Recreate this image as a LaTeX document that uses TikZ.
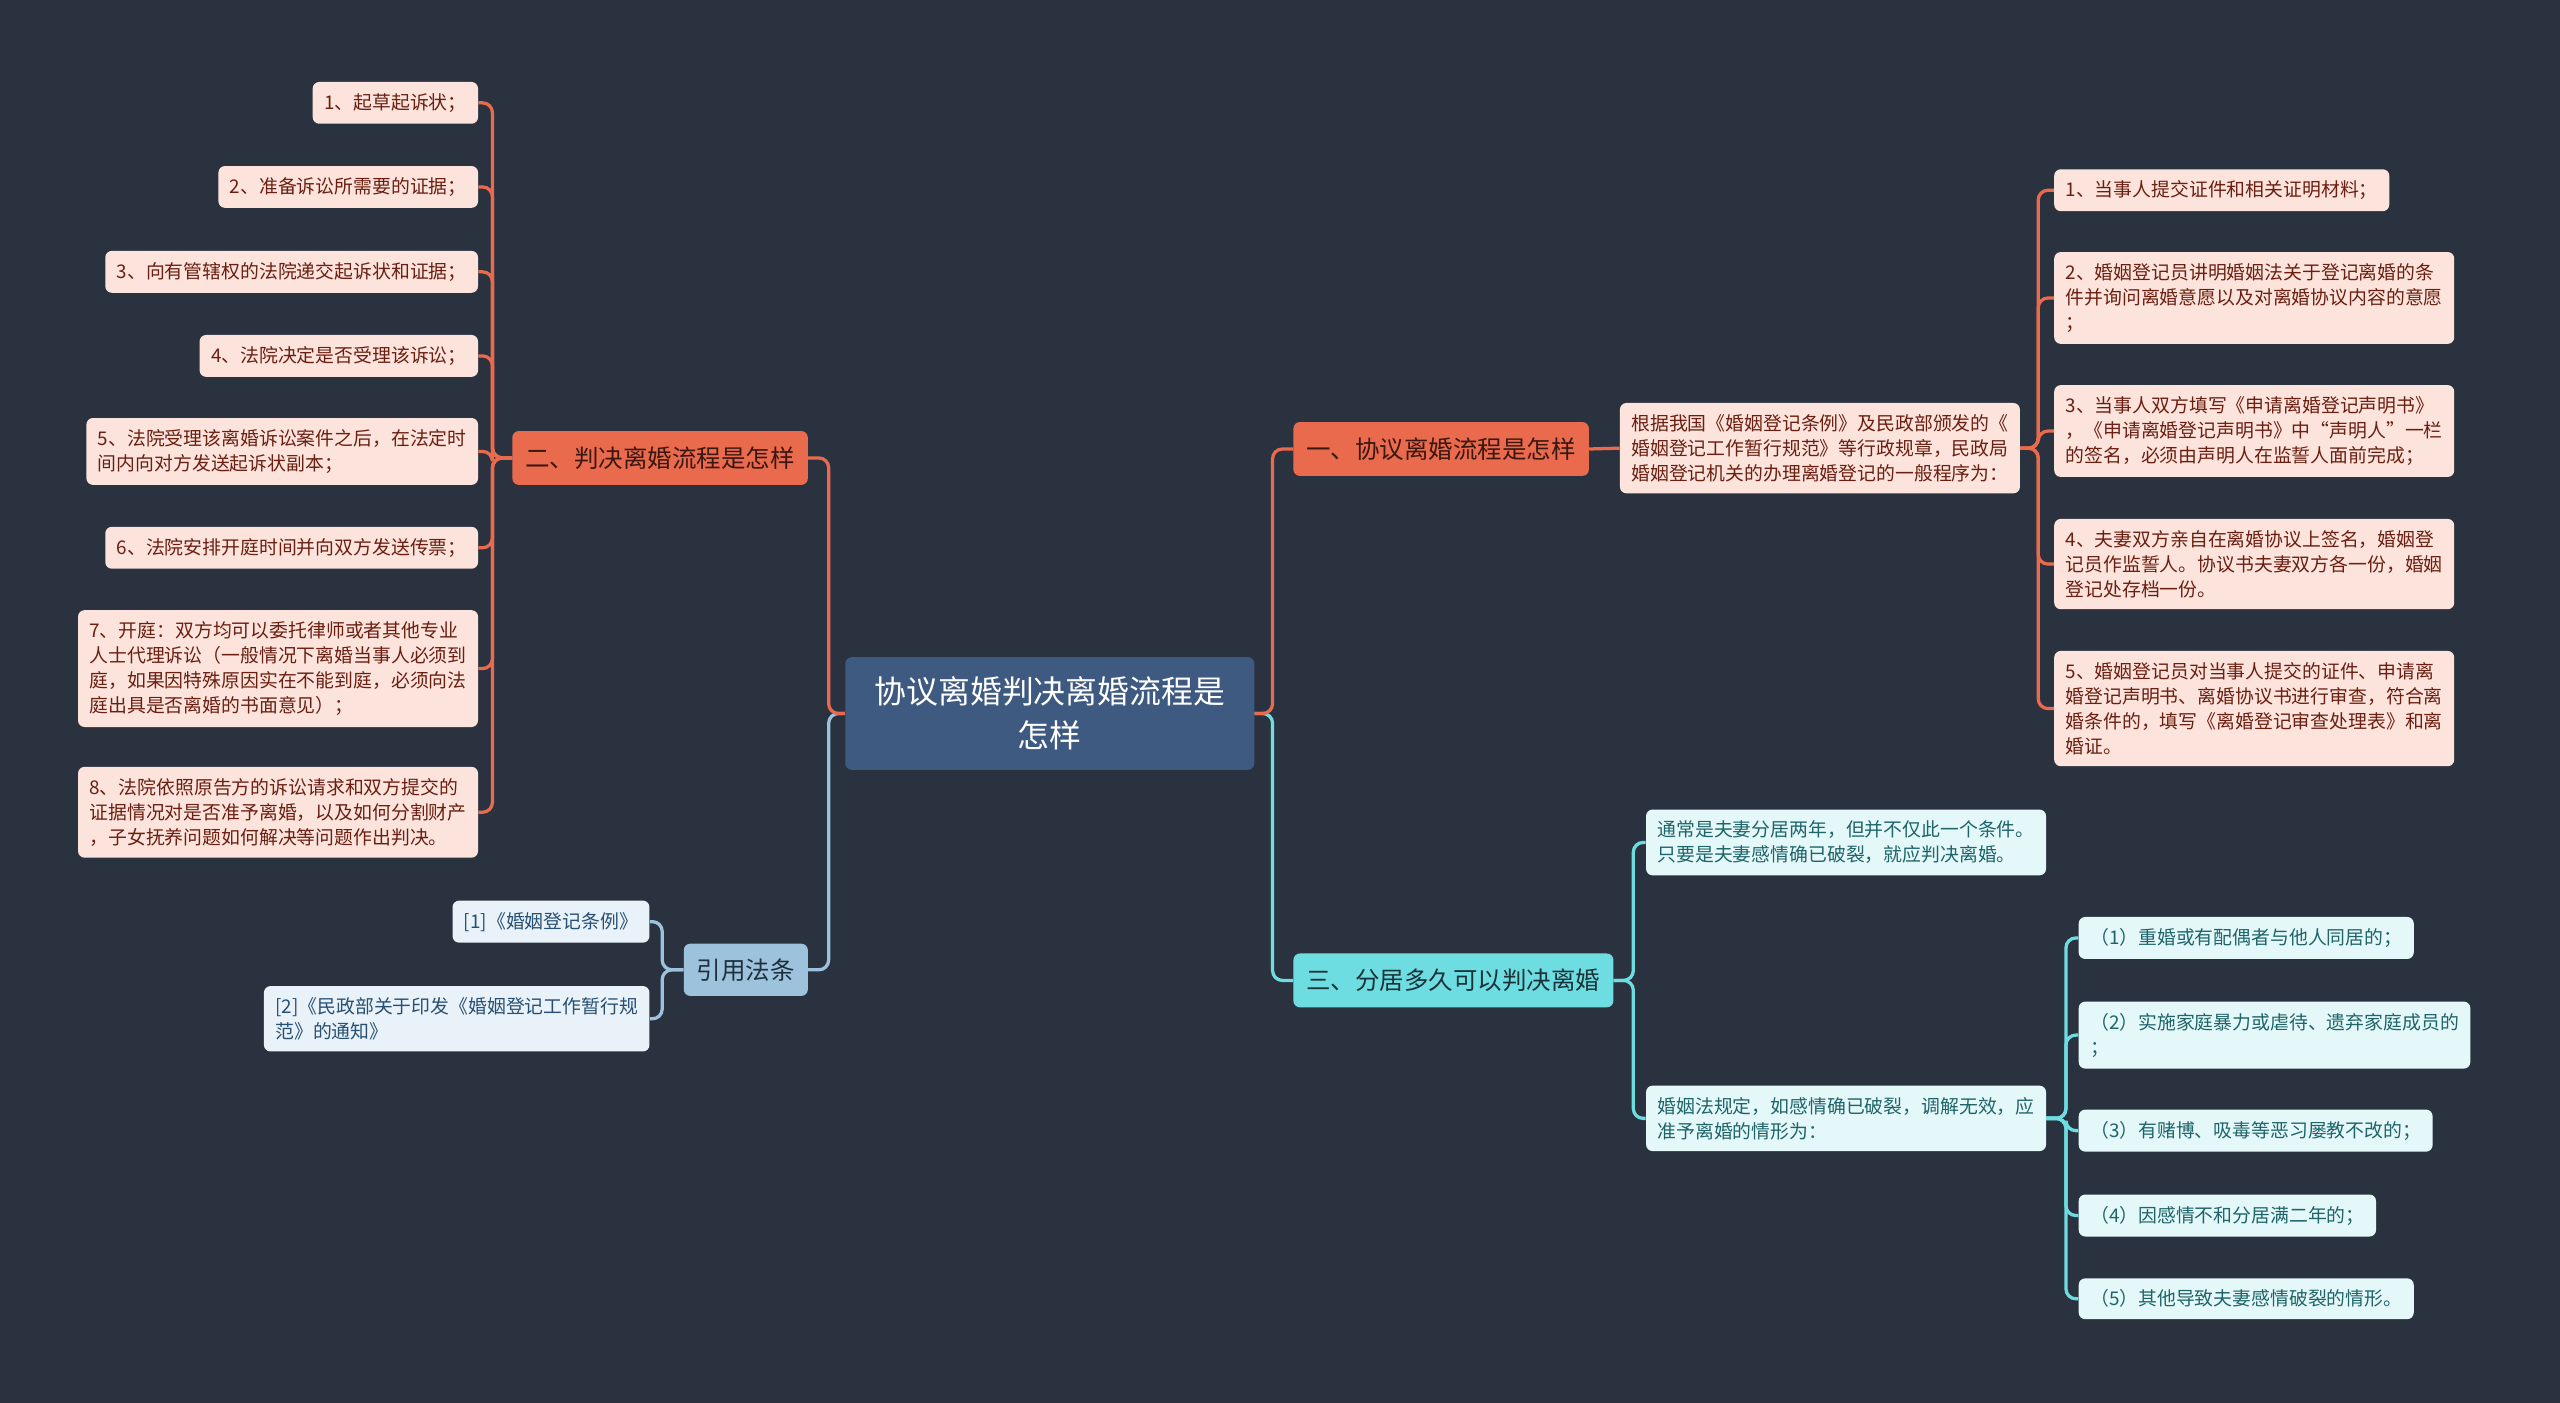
\documentclass[tikz,border=0pt]{standalone}
\usepackage{fontspec}
\setmainfont{Noto Sans CJK SC}
\definecolor{bg}{HTML}{2A3240}
\definecolor{rootfill}{HTML}{3E5A80}
\definecolor{orangeline}{HTML}{E96A4C}
\definecolor{orangeleaf}{HTML}{FCE4DC}
\definecolor{orangetext}{HTML}{6B1F12}
\definecolor{orangehead}{HTML}{3A1710}
\definecolor{cyanline}{HTML}{6EDDE2}
\definecolor{cyanleaf}{HTML}{E4F8F9}
\definecolor{cyantext}{HTML}{1E6469}
\definecolor{cyanhead}{HTML}{1A3338}
\definecolor{blueline}{HTML}{9DC3DC}
\definecolor{blueleaf}{HTML}{E8F2F8}
\definecolor{bluetext}{HTML}{285073}
\definecolor{bluehead}{HTML}{1F2F3F}

\begin{document}
\begin{tikzpicture}[x=1pt, y=-1pt,
    mainbox/.style={rectangle, rounded corners=4pt, fill=rootfill, text=white, align=center, inner xsep=18pt, inner ysep=12pt, font=\fontsize{19.5}{27}\selectfont},
    branchbox/.style={rectangle, rounded corners=4pt, minimum height=33pt, inner xsep=8pt, font=\fontsize{15}{18}\selectfont},
    leafbox/.style={rectangle, rounded corners=4pt, align=left, minimum height=25pt, inner xsep=7pt, inner ysep=7pt, font=\fontsize{11.55}{15.3}\selectfont},
    orangeleafbox/.style={leafbox, fill=orangeleaf, text=orangetext},
    cyanleafbox/.style={leafbox, fill=cyanleaf, text=cyantext},
    blueleafbox/.style={leafbox, fill=blueleaf, text=bluetext},
    wire/.style={line width=2pt, rounded corners=6pt}
]
    \useasboundingbox (0,0) rectangle (1568,859);
    \fill[bg] (-5,-5) rectangle (1573,864);

    \node[mainbox] (root) at (643,437) {协议离婚判决离婚流程是\\怎样};

    % left: 判决离婚
    \node[branchbox, fill=orangeline, text=orangehead, anchor=east] (b2) at (495,280.5) {二、判决离婚流程是怎样};
    \node[orangeleafbox, anchor=east] (c1) at (293,63) {1、起草起诉状；};
    \node[orangeleafbox, anchor=east] (c2) at (293,114.5) {2、准备诉讼所需要的证据；};
    \node[orangeleafbox, anchor=east] (c3) at (293,166.5) {3、向有管辖权的法院递交起诉状和证据；};
    \node[orangeleafbox, anchor=east] (c4) at (293,218) {4、法院决定是否受理该诉讼；};
    \node[orangeleafbox, anchor=east] (c5) at (293,276.5) {5、法院受理该离婚诉讼案件之后，在法定时\\间内向对方发送起诉状副本；};
    \node[orangeleafbox, anchor=east] (c6) at (293,335.5) {6、法院安排开庭时间并向双方发送传票；};
    \node[orangeleafbox, anchor=east] (c7) at (293,409.5) {7、开庭：双方均可以委托律师或者其他专业\\人士代理诉讼（一般情况下离婚当事人必须到\\庭，如果因特殊原因实在不能到庭，必须向法\\庭出具是否离婚的书面意见）；};
    \node[orangeleafbox, anchor=east] (c8) at (293,497.5) {8、法院依照原告方的诉讼请求和双方提交的\\证据情况对是否准予离婚，以及如何分割财产\\，子女抚养问题如何解决等问题作出判决。};

    % left: 引用法条
    \node[branchbox, minimum height=32pt, fill=blueline, text=bluehead, anchor=east] (ref) at (495,594) {引用法条};
    \node[blueleafbox, anchor=east] (r1) at (398,564.5) {[1]《婚姻登记条例》};
    \node[blueleafbox, anchor=east] (r2) at (398,624) {[2]《民政部关于印发《婚姻登记工作暂行规\\范》的通知》};

    % right: 协议离婚
    \node[branchbox, fill=orangeline, text=orangehead, anchor=west] (b1) at (792,275) {一、协议离婚流程是怎样};
    \node[orangeleafbox, anchor=west] (n0) at (992,274.5) {根据我国《婚姻登记条例》及民政部颁发的《\\婚姻登记工作暂行规范》等行政规章，民政局\\婚姻登记机关的办理离婚登记的一般程序为：};
    \node[orangeleafbox, anchor=west] (n1) at (1258,116.5) {1、当事人提交证件和相关证明材料；};
    \node[orangeleafbox, anchor=west] (n2) at (1258,182.5) {2、婚姻登记员讲明婚姻法关于登记离婚的条\\件并询问离婚意愿以及对离婚协议内容的意愿\\；};
    \node[orangeleafbox, anchor=west] (n3) at (1258,264) {3、当事人双方填写《申请离婚登记声明书》\\，《申请离婚登记声明书》中“声明人”一栏\\的签名，必须由声明人在监誓人面前完成；};
    \node[orangeleafbox, anchor=west] (n4) at (1258,345.5) {4、夫妻双方亲自在离婚协议上签名，婚姻登\\记员作监誓人。协议书夫妻双方各一份，婚姻\\登记处存档一份。};
    \node[orangeleafbox, anchor=west] (n5) at (1258,434) {5、婚姻登记员对当事人提交的证件、申请离\\婚登记声明书、离婚协议书进行审查，符合离\\婚条件的，填写《离婚登记审查处理表》和离\\婚证。};

    % right: 分居多久
    \node[branchbox, fill=cyanline, text=cyanhead, anchor=west] (b3) at (792,600.5) {三、分居多久可以判决离婚};
    \node[cyanleafbox, anchor=west] (s1) at (1008,516) {通常是夫妻分居两年，但并不仅此一个条件。\\只要是夫妻感情确已破裂，就应判决离婚。};
    \node[cyanleafbox, anchor=west] (s2) at (1008,685) {婚姻法规定，如感情确已破裂，调解无效，应\\准予离婚的情形为：};
    \node[cyanleafbox, anchor=west] (t1) at (1273,574.5) {（1）重婚或有配偶者与他人同居的；};
    \node[cyanleafbox, anchor=west] (t2) at (1273,634) {（2）实施家庭暴力或虐待、遗弃家庭成员的\\；};
    \node[cyanleafbox, anchor=west] (t3) at (1273,692.5) {（3）有赌博、吸毒等恶习屡教不改的；};
    \node[cyanleafbox, anchor=west] (t4) at (1273,744.5) {（4）因感情不和分居满二年的；};
    \node[cyanleafbox, anchor=west] (t5) at (1273,795.5) {（5）其他导致夫妻感情破裂的情形。};

    % connectors
    \draw[wire, blueline] (root.west) -- ++(-10,0) |- (ref.east);
    \draw[wire, orangeline] (root.west) -- ++(-10,0) |- (b2.east);
    \foreach \c in {c1,c2,c3,c4,c5,c6,c7,c8}
        \draw[wire, orangeline] (b2.west) -- ++(-12,0) |- (\c.east);
    \foreach \c in {r1,r2}
        \draw[wire, blueline] (ref.west) -- ++(-13,0) |- (\c.east);

    \draw[wire, cyanline] (root.east) -- ++(11,0) |- (b3.west);
    \draw[wire, orangeline] (root.east) -- ++(11,0) |- (b1.west);
    \draw[wire, orangeline] (b1.east) -- (n0.west);
    \foreach \c in {n1,n2,n3,n4,n5}
        \draw[wire, orangeline] (n0.east) -- ++(11,0) |- (\c.west);
    \foreach \c in {s1,s2}
        \draw[wire, cyanline] (b3.east) -- ++(12,0) |- (\c.west);
    \foreach \c in {t1,t2,t3,t4,t5}
        \draw[wire, cyanline] (s2.east) -- ++(12,0) |- (\c.west);
\end{tikzpicture}
\end{document}
